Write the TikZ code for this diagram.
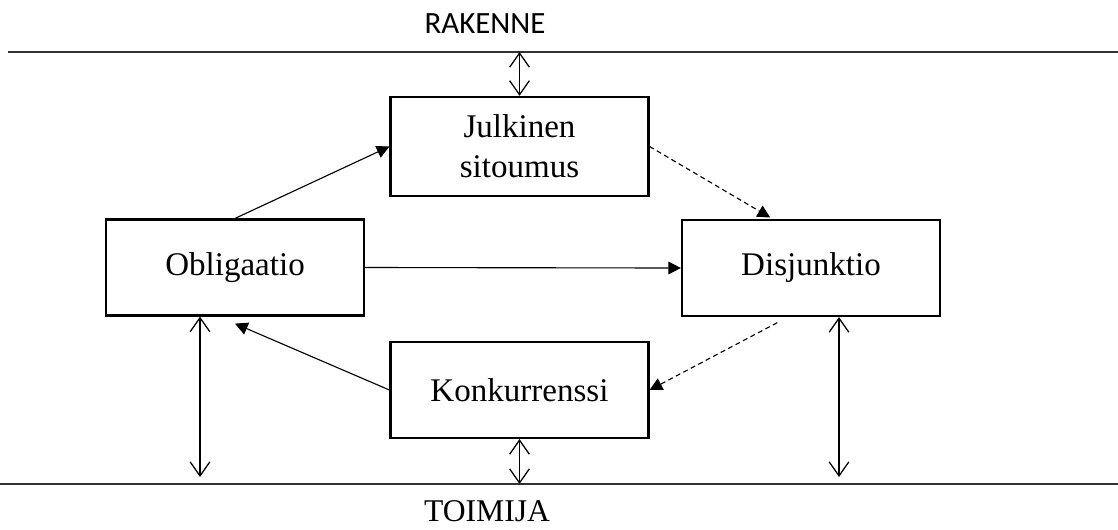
\documentclass[tikz,border=0pt]{standalone}
\usepackage{fontspec}
\setmainfont{Liberation Serif}
\newfontfamily\labelfont{Carlito}
\usetikzlibrary{arrows.meta}

\begin{document}
\begin{tikzpicture}[x=0.025cm, y=-0.025cm,
  box/.style={draw, line width=1.5pt, align=center, inner sep=0pt, font=\fontsize{23.5}{28.5}\selectfont, minimum width=6.45cm, minimum height=2.4cm},
  arr/.style={-{Triangle[length=9pt, width=9pt]}, line width=0.8pt},
  darr/.style={arr, dash pattern=on 3.5pt off 2.5pt},
  dbl/.style={{Straight Barb[length=10pt, width=14pt]}-{Straight Barb[length=10pt, width=14pt]}, line width=0.9pt},
  rule/.style={line width=1pt, draw=black!80}
]
\useasboundingbox (0,0) rectangle (1118,529);
\coordinate (tl) at (8,52);
\coordinate (tr) at (1118,52);
\coordinate (bl) at (0,484);
\coordinate (br) at (1118,484);
\coordinate (lend) at (200,477);
\coordinate (rend) at (839,477);

\draw[rule] (tl) -- (tr);
\draw[rule] (bl) -- (br);
\node[anchor=base, inner sep=0pt, font=\labelfont\fontsize{22}{24}\selectfont] (rak) at (485,33) {RAKENNE};
\node[anchor=base, inner sep=0pt, font=\fontsize{22.5}{24}\selectfont] (toi) at (487,521) {TOIMIJA};

\node[box, minimum height=2.48cm] (jul) at (519.5,146.5) {Julkinen\\sitoumus};
\node[box] (obl) at (235,267.5) {Obligaatio};
\node[box] (dis) at (811,268) {Disjunktio};
\node[box] (kon) at (519.5,390) {Konkurrenssi};

\draw[arr] (obl.north) -- (jul.west);
\draw[arr] (obl.east) -- (dis.west);
\draw[arr] (kon.west) -- ([yshift=-5pt]obl.south);
\draw[darr] (jul.east) -- ([xshift=-29pt, yshift=1pt]dis.north);
\draw[darr] ([xshift=-24pt, yshift=-4pt]dis.south) -- (kon.east);

\draw[dbl] (jul.north |- tl) -- (jul.north);
\draw[dbl] (kon.south) -- (kon.south |- bl);
\draw[dbl] (lend |- obl.south) -- (lend);
\draw[dbl] (rend |- dis.south) -- (rend);
\end{tikzpicture}
\end{document}
